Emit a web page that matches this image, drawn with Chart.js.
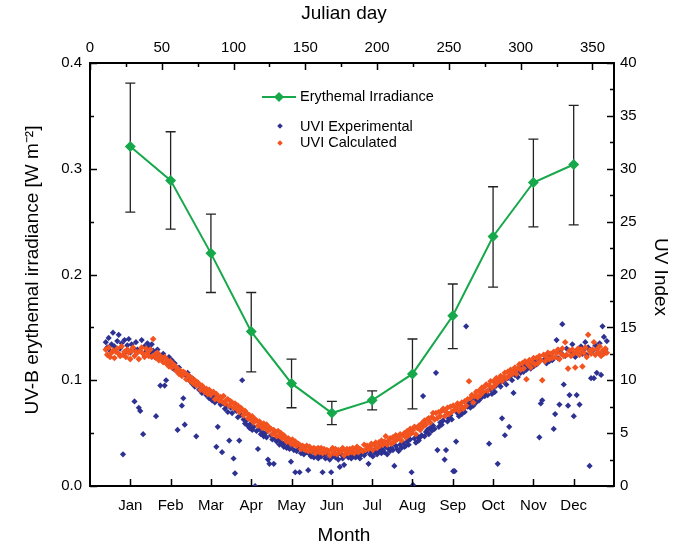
<!DOCTYPE html>
<html>
<head>
<meta charset="utf-8">
<script src="https://cdn.jsdelivr.net/npm/chart.js@4.4.0/dist/chart.umd.min.js"></script>
<style>
  body { margin: 0; background: #fff; }
  #wrap { width: 681px; height: 548px; }
</style>
</head>
<body>
<div id="wrap"><canvas id="uvChart" width="681" height="548"></canvas></div>
<script>
// Monthly erythemal irradiance (W m-2) with error bar limits
const months = ['Jan', 'Feb', 'Mar', 'Apr', 'May', 'Jun', 'Jul', 'Aug', 'Sep', 'Oct', 'Nov', 'Dec'];
const monthPos = [1, 2, 3, 4, 5, 6, 7, 8, 9, 10, 11, 12];
const irradiance = [0.321, 0.289, 0.220, 0.146, 0.097, 0.069, 0.081, 0.106, 0.161, 0.236, 0.287, 0.304];
const irrLow = [0.259, 0.243, 0.183, 0.108, 0.074, 0.058, 0.072, 0.073, 0.130, 0.188, 0.245, 0.247];
const irrHigh = [0.381, 0.335, 0.257, 0.183, 0.120, 0.080, 0.090, 0.139, 0.191, 0.283, 0.328, 0.360];
const dayTicks = [0, 50, 100, 150, 200, 250, 300, 350];

// Daily UV index, Julian day 11 .. 360
const firstDay = 11;
const uviExperimental = [
  13.6, 13.1, 14.0, 12.8, 13.4, 14.5, 13.2, 12.9, 13.7, 14.3,
  13.0, 13.5, 3.0, 13.8, 12.7, 13.3, 13.9, 12.6, 13.4, 13.0,
  8.0, 13.6, 12.9, 7.4, 7.1, 13.8, 4.9, 13.2, 12.7, 13.5,
  13.1, 12.6, 13.4, 12.8, 12.2, 6.6, 12.9, 12.4, 9.5, 12.0,
  12.5, 9.5, 10.0, 11.8, 12.2, 11.4, 11.9, 11.1, 11.6, 10.9,
  5.3, 11.2, 10.6, 7.6, 8.3, 5.8, 10.4, 10.7, 10.0, 10.3,
  9.7, 10.1, 9.4, 4.7, 9.6, 9.1, 9.5, 8.8, 9.2, 8.9,
  8.6, 9.0, 8.3, 8.7, 8.1, 8.5, 7.9, 3.7, 5.6, 8.0,
  7.7, 3.2, 7.8, 7.3, 7.6, 7.0, 4.3, 7.4, 6.9, 2.6,
  1.2, 7.1, 6.5, 4.3, 6.7, 10.0, 6.3, 5.9, 6.2, 5.7,
  5.5, 5.9, 5.3, 5.6, 0.0, 5.2, 3.5, 5.4, 4.9, 5.1,
  4.7, 5.0, 4.6, 2.5, 2.1, 4.8, 4.4, 2.1, 4.5, 4.2,
  4.4, 3.9, 4.2, 4.0, 3.7, 4.1, 3.6, 3.9, 3.5, 2.3,
  3.8, 3.4, 1.3, 3.3, 3.6, 1.3, 3.1, 3.5, 3.0, 3.4,
  3.2, 1.5, 3.0, 2.8, 3.3, 2.7, 3.1, 2.9, 2.6, 3.2,
  2.8, 1.3, 3.0, 2.6, 3.1, 2.9, 2.5, 1.3, 2.8, 3.0,
  2.7, 2.9, 2.5, 1.8, 3.0, 2.6, 2.0, 2.9, 3.1, 2.7,
  2.9, 2.6, 3.1, 2.8, 2.7, 3.2, 2.9, 2.6, 3.0, 3.3,
  2.9, 3.2, 3.4, 2.1, 3.0, 3.3, 2.8, 3.2, 3.5, 3.0,
  3.3, 3.6, 3.1, 3.4, 3.2, 3.7, 3.0, 3.5, 3.3, 3.6,
  3.4, 1.9, 3.8, 3.5, 3.3, 3.9, 3.6, 4.1, 3.7, 3.8,
  4.2, 3.9, 4.4, 1.3, 0.1, 4.5, 4.1, 4.7, 4.3, 4.6,
  4.8, 8.5, 4.7, 5.1, 5.3, 4.9, 5.5, 5.2, 5.7, 5.4,
  10.7, 3.4, 5.6, 6.0, 5.8, 6.2, 2.5, 3.4, 6.1, 6.4,
  6.7, 6.3, 1.4, 1.4, 4.2, 6.9, 6.6, 7.1, 6.8, 7.3,
  7.0, 15.1, 7.5, 7.8, 7.4, 8.0, 7.6, 8.2, 7.9, 8.3,
  8.1, 8.6, 8.4, 8.8, 8.5, 8.9, 8.6, 4.0, 9.1, 8.7,
  9.3, 8.9, 9.5, 2.1, 9.7, 9.4, 6.4, 9.9, 4.8, 9.6,
  10.2, 5.6, 10.4, 10.0, 8.8, 10.5, 10.8, 10.3, 11.1, 10.7,
  11.2, 10.8, 11.5, 11.0, 11.4, 11.7, 11.1, 11.6, 11.3, 11.8,
  11.5, 12.0, 4.6, 7.8, 8.1, 11.9, 12.3, 11.6, 12.2, 11.8,
  12.4, 11.9, 5.4, 6.8, 13.8, 12.1, 7.7, 12.6, 15.3, 9.6,
  12.3, 13.0, 7.6, 8.6, 12.7, 13.4, 6.6, 12.2, 8.6, 12.9,
  7.7, 13.2, 12.5, 12.9, 13.6, 12.4, 13.1, 1.9, 10.2, 12.8,
  10.2, 13.3, 10.7, 12.6, 13.5, 10.5, 15.1, 14.1, 12.9, 13.7
];
const uviCalculated = [
  12.9, 12.4, 13.1, 12.2, 12.6, 12.8, 12.1, 12.7, 13.0, 12.5,
  12.3, 13.2, 12.4, 12.7, 12.2, 12.9, 12.6, 12.0, 12.8, 13.1,
  12.3, 12.7, 12.6, 12.0, 12.8, 13.1, 12.5, 12.2, 13.0, 12.6,
  12.3, 12.9, 12.2, 13.9, 12.4, 12.1, 12.6, 11.9, 12.3, 12.1,
  11.7, 12.2, 11.6, 11.9, 11.3, 11.8, 11.2, 11.5, 11.4, 10.9,
  11.1, 10.6, 10.9, 10.4, 10.8, 10.7, 10.1, 10.5, 10.4, 9.9,
  10.2, 9.7, 10.0, 9.5, 9.8, 9.6, 9.1, 9.5, 9.3, 8.9,
  9.2, 8.7, 9.1, 8.6, 8.8, 8.9, 8.2, 8.7, 8.5, 8.1,
  8.4, 8.0, 8.5, 7.8, 8.1, 8.2, 7.6, 8.0, 7.9, 7.4,
  7.8, 7.3, 7.6, 7.0, 7.4, 7.2, 6.7, 7.1, 6.9, 6.4,
  6.7, 6.3, 6.6, 6.0, 6.3, 6.2, 5.7, 6.1, 5.9, 5.5,
  5.9, 5.5, 5.8, 5.2, 5.5, 5.4, 4.9, 5.3, 5.1, 4.7,
  5.2, 4.7, 5.0, 4.5, 4.8, 4.6, 4.2, 4.5, 4.4, 4.0,
  4.4, 3.9, 4.2, 3.8, 4.0, 3.9, 3.5, 3.8, 3.7, 3.4,
  3.8, 3.3, 3.7, 3.3, 3.5, 3.6, 3.1, 3.5, 3.6, 3.2,
  3.6, 3.1, 3.5, 3.2, 3.4, 3.3, 2.9, 3.4, 3.6, 3.1,
  3.5, 3.0, 3.4, 3.2, 3.3, 3.6, 2.9, 3.3, 3.5, 3.1,
  3.5, 3.2, 3.6, 3.1, 3.4, 3.7, 3.2, 3.5, 3.4, 3.3,
  3.9, 3.4, 3.8, 3.5, 3.7, 4.0, 3.4, 3.9, 4.1, 3.6,
  4.1, 3.8, 4.3, 3.9, 4.2, 4.7, 3.9, 4.3, 4.5, 4.0,
  4.6, 4.2, 4.8, 4.4, 4.6, 4.9, 4.3, 4.8, 5.0, 4.6,
  5.2, 4.8, 5.4, 5.0, 5.3, 5.6, 4.9, 5.5, 5.7, 5.3,
  5.9, 5.6, 6.2, 5.8, 6.3, 6.4, 6.0, 6.5, 6.9, 6.3,
  6.9, 6.4, 7.0, 6.6, 7.1, 7.3, 6.6, 7.0, 7.4, 6.8,
  7.5, 7.0, 7.6, 7.2, 7.4, 7.8, 7.1, 7.6, 7.9, 7.3,
  8.0, 7.6, 8.2, 9.9, 8.3, 8.6, 7.9, 8.5, 8.9, 8.4,
  9.0, 8.6, 9.3, 8.9, 9.4, 9.6, 9.0, 9.5, 9.9, 9.3,
  9.9, 9.5, 10.2, 9.8, 10.1, 10.4, 9.9, 10.3, 10.7, 10.2,
  10.8, 10.4, 11.0, 10.6, 10.9, 11.2, 10.6, 11.1, 11.5, 11.0,
  11.6, 11.1, 11.8, 10.1, 11.5, 11.9, 11.2, 11.7, 12.1, 11.5,
  12.1, 11.6, 12.3, 11.9, 10.0, 12.4, 11.8, 12.2, 12.6, 12.0,
  12.5, 12.1, 12.7, 12.2, 12.6, 12.9, 12.0, 12.5, 13.0, 12.3,
  13.6, 12.4, 11.1, 12.8, 12.3, 12.9, 12.5, 11.2, 12.7, 13.0,
  12.4, 12.9, 11.3, 12.6, 13.1, 12.2, 14.3, 12.8, 12.5, 12.9,
  13.6, 12.4, 12.9, 12.6, 13.2, 12.3, 12.8, 12.5, 13.0, 12.6
];

const FONT = "'Liberation Sans', Arial, sans-serif";
const GREEN = '#17a84b';
const BLUE = '#2c3192';
const ORANGE = '#f2531f';

function byDay(values) {
    return values.map((v, i) => ({ x: firstDay + i, y: v }));
}

// pin the axis box sizes so the plot area sits where it does in the figure
function fixSize(px) {
    return function (scale) {
        if (scale.isHorizontal()) scale.height = px;
        else scale.width = px;
    };
}

// error bars under the green line
const errorBars = {
    id: 'errorBars',
    beforeDatasetDraw(chart, args) {
        if (args.index !== 0) return;
        const ctx = chart.ctx;
        const xs = chart.scales.x, ys = chart.scales.y;
        ctx.save();
        ctx.strokeStyle = '#222';
        ctx.lineWidth = 1.3;
        monthPos.forEach((m, i) => {
            const x = xs.getPixelForValue(m);
            const y1 = ys.getPixelForValue(irrLow[i]);
            const y2 = ys.getPixelForValue(irrHigh[i]);
            ctx.beginPath();
            ctx.moveTo(x, y1); ctx.lineTo(x, y2);
            ctx.moveTo(x - 5, y1); ctx.lineTo(x + 5, y1);
            ctx.moveTo(x - 5, y2); ctx.lineTo(x + 5, y2);
            ctx.stroke();
        });
        ctx.restore();
    }
};

// tick marks pointing into the plot, with minor ticks
const inwardTicks = {
    id: 'inwardTicks',
    afterDatasetsDraw(chart) {
        const ctx = chart.ctx, a = chart.chartArea, s = chart.scales;
        ctx.save();
        ctx.strokeStyle = '#000';
        ctx.lineWidth = 1.5;
        function mark(scale, value, len) {
            const p = Math.round(scale.getPixelForValue(value)) + 0.5;
            ctx.beginPath();
            if (scale.position === 'left') { ctx.moveTo(a.left, p); ctx.lineTo(a.left + len, p); }
            if (scale.position === 'right') { ctx.moveTo(a.right, p); ctx.lineTo(a.right - len, p); }
            if (scale.position === 'top') { ctx.moveTo(p, a.top); ctx.lineTo(p, a.top + len); }
            if (scale.position === 'bottom') { ctx.moveTo(p, a.bottom); ctx.lineTo(p, a.bottom - len); }
            ctx.stroke();
        }
        function withMinor(scale, step) {
            for (let v = scale.min; v < scale.max + 1e-9; v += step) {
                mark(scale, v, 7);
                if (v + step / 2 < scale.max) mark(scale, v + step / 2, 4);
            }
        }
        withMinor(s.y, 0.1);
        withMinor(s.yUvi, 5);
        withMinor(s.xDay, 50);
        monthPos.forEach(m => mark(s.x, m, 7));
        ctx.restore();
    }
};

// axis titles and the legend drawn by hand
const labels = {
    id: 'labels',
    afterDraw(chart) {
        const ctx = chart.ctx;
        ctx.save();
        ctx.fillStyle = '#000';
        ctx.textAlign = 'center';
        ctx.textBaseline = 'middle';
        ctx.font = '19px ' + FONT;
        ctx.fillText('Julian day', 344, 14);
        ctx.fillText('Month', 344, 536);
        ctx.save();
        ctx.translate(33, 270);
        ctx.rotate(-Math.PI / 2);
        ctx.fillText('UV-B erythemal irradiance [W m\u207B\u00B2]', 0, 0);
        ctx.restore();
        ctx.save();
        ctx.translate(660, 277);
        ctx.rotate(Math.PI / 2);
        ctx.fillText('UV Index', 0, 0);
        ctx.restore();

        // legend
        ctx.textAlign = 'left';
        ctx.font = '14.5px ' + FONT;
        ctx.strokeStyle = GREEN;
        ctx.lineWidth = 2;
        ctx.beginPath(); ctx.moveTo(262, 97); ctx.lineTo(296, 97); ctx.stroke();
        diamond(ctx, 279, 97, 5, GREEN);
        diamond(ctx, 280, 126, 2.8, BLUE);
        diamond(ctx, 280, 143, 2.8, ORANGE);
        ctx.fillStyle = '#000';
        ctx.fillText('Erythemal Irradiance', 300, 97);
        ctx.fillText('UVI Experimental', 300, 127);
        ctx.fillText('UVI Calculated', 300, 143);
        ctx.restore();
    }
};

function diamond(ctx, x, y, r, color) {
    ctx.fillStyle = color;
    ctx.beginPath();
    ctx.moveTo(x, y - r); ctx.lineTo(x + r, y); ctx.lineTo(x, y + r); ctx.lineTo(x - r, y);
    ctx.closePath();
    ctx.fill();
}

Chart.defaults.font.family = FONT;
Chart.defaults.color = '#000';

const axisBorder = { display: true, color: '#000', width: 2 };
const noGrid = { display: false, drawTicks: false };

new Chart(document.getElementById('uvChart').getContext('2d'), {
    type: 'line',
    data: {
        datasets: [
            {
                label: 'Erythemal Irradiance',
                data: monthPos.map((m, i) => ({ x: m, y: irradiance[i] })),
                xAxisID: 'x',
                yAxisID: 'y',
                borderColor: GREEN,
                backgroundColor: GREEN,
                borderWidth: 2,
                pointStyle: 'rectRot',
                pointRadius: 5.5,
                pointBorderWidth: 0,
                tension: 0
            },
            {
                type: 'scatter',
                label: 'UVI Calculated',
                data: byDay(uviCalculated),
                xAxisID: 'xDay',
                yAxisID: 'yUvi',
                backgroundColor: ORANGE,
                pointStyle: 'rectRot',
                pointRadius: 3.3,
                pointBorderWidth: 0
            },
            {
                type: 'scatter',
                label: 'UVI Experimental',
                data: byDay(uviExperimental),
                xAxisID: 'xDay',
                yAxisID: 'yUvi',
                backgroundColor: BLUE,
                pointStyle: 'rectRot',
                pointRadius: 3.1,
                pointBorderWidth: 0
            }
        ]
    },
    options: {
        responsive: false,
        animation: false,
        layout: { padding: 0 },
        plugins: {
            legend: { display: false },
            tooltip: { enabled: false }
        },
        scales: {
            x: {
                type: 'linear',
                position: 'bottom',
                min: 0,
                max: 13,
                afterFit: fixSize(62),
                grid: noGrid,
                border: axisBorder,
                ticks: {
                    stepSize: 1,
                    autoSkip: false,
                    maxRotation: 0,
                    padding: 11,
                    font: { size: 15 },
                    callback: v => months[v - 1] || ''
                }
            },
            xDay: {
                type: 'linear',
                position: 'top',
                min: 0,
                max: 365,
                afterFit: fixSize(63),
                afterBuildTicks: scale => { scale.ticks = dayTicks.map(v => ({ value: v })); },
                grid: noGrid,
                border: axisBorder,
                ticks: { autoSkip: false, maxRotation: 0, padding: 6, font: { size: 15 } }
            },
            y: {
                position: 'left',
                min: 0,
                max: 0.4,
                afterFit: fixSize(90),
                grid: noGrid,
                border: axisBorder,
                ticks: { stepSize: 0.1, padding: 8, font: { size: 15 }, callback: v => v.toFixed(1) }
            },
            yUvi: {
                position: 'right',
                min: 0,
                max: 40,
                afterFit: fixSize(67),
                grid: noGrid,
                border: axisBorder,
                ticks: { stepSize: 5, padding: 6, font: { size: 15 } }
            }
        }
    },
    plugins: [errorBars, inwardTicks, labels]
});
</script>
</body>
</html>
